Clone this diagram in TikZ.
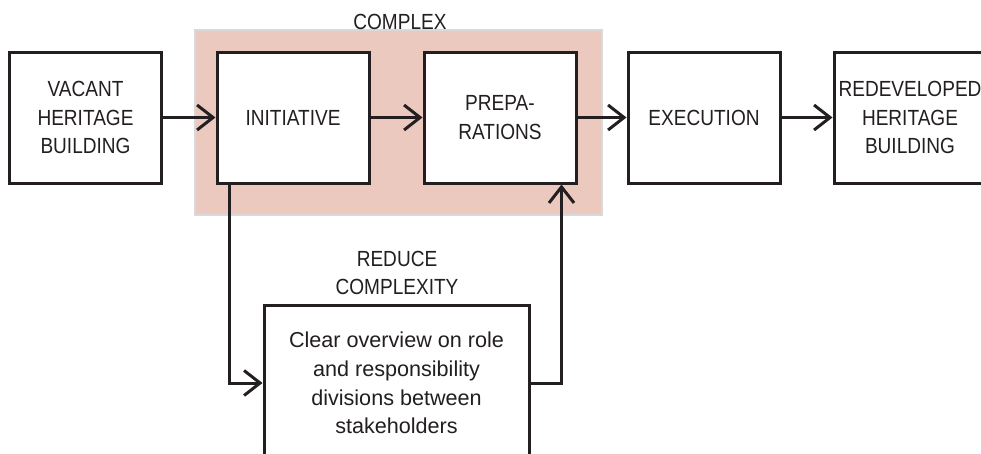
\documentclass[tikz,border=0pt]{standalone}
\usepackage{fontspec}
\setmainfont{Liberation Sans}
\newfontfamily\capfont[FakeStretch=0.87]{Liberation Sans}
\usetikzlibrary{arrows.meta}
\definecolor{ink}{HTML}{231F20}
\definecolor{zonefill}{HTML}{EBC9BF}
\definecolor{zoneedge}{HTML}{D8D9DA}
\tikzset{
  stage/.style={draw=ink, line width=3pt, fill=white, minimum width=152pt,
    minimum height=131pt, align=center, text=ink, inner sep=0pt,
    font=\capfont\fontsize{21.9}{28.5}\selectfont},
  label/.style={align=center, text=ink, inner sep=0pt,
    font=\capfont\fontsize{21.9}{28.5}\selectfont},
  flow/.style={draw=ink, line width=3pt,
    -{Straight Barb[length=16pt, width=25pt]}}
}
\begin{document}
\begin{tikzpicture}[x=1pt, y=-1pt]
\useasboundingbox (0,0) rectangle (981,453);
\clip (0,0) rectangle (981,453);
\fill[white] (0,0) rectangle (981,453);

% complex zone
\draw[fill=zonefill, draw=zoneedge, line width=2pt] (195,30) rectangle (602,215);
\node[label] (complex) at (400,22) {COMPLEX};

% main chain
\node[stage] (vacant) at (85.5,117.5) {VACANT\\HERITAGE\\BUILDING};
\node[stage] (init) at (293,117.5) {INITIATIVE};
\node[stage] (prep) at (500,117.5) {PREPA-\\RATIONS};
\node[stage] (exec) at (704,117.5) {EXECUTION};
\node[stage] (redev) at (910,117.5) {REDEVELOPED\\HERITAGE\\BUILDING};

% complexity reduction
\node[label] (reduce) at (397,273) {REDUCE\\COMPLEXITY};
\node[draw=ink, line width=3pt, fill=white, minimum width=265pt,
  minimum height=156pt, align=center, text=ink, inner sep=0pt,
  font=\fontsize{21.6}{28.7}\selectfont] (clear) at (396.5,383)
  {Clear overview on role\\and responsibility\\divisions between\\stakeholders};

% connectors
\draw[flow] (vacant.east) -- (init.west);
\draw[flow] (init.east) -- (prep.west);
\draw[flow] (prep.east) -- (exec.west);
\draw[flow] (exec.east) -- (redev.west);
\draw[flow] ([xshift=14pt]init.south west) |- (clear.west);
\draw[flow] (clear.east) -| ([xshift=-16pt]prep.south east);
\end{tikzpicture}
\end{document}
